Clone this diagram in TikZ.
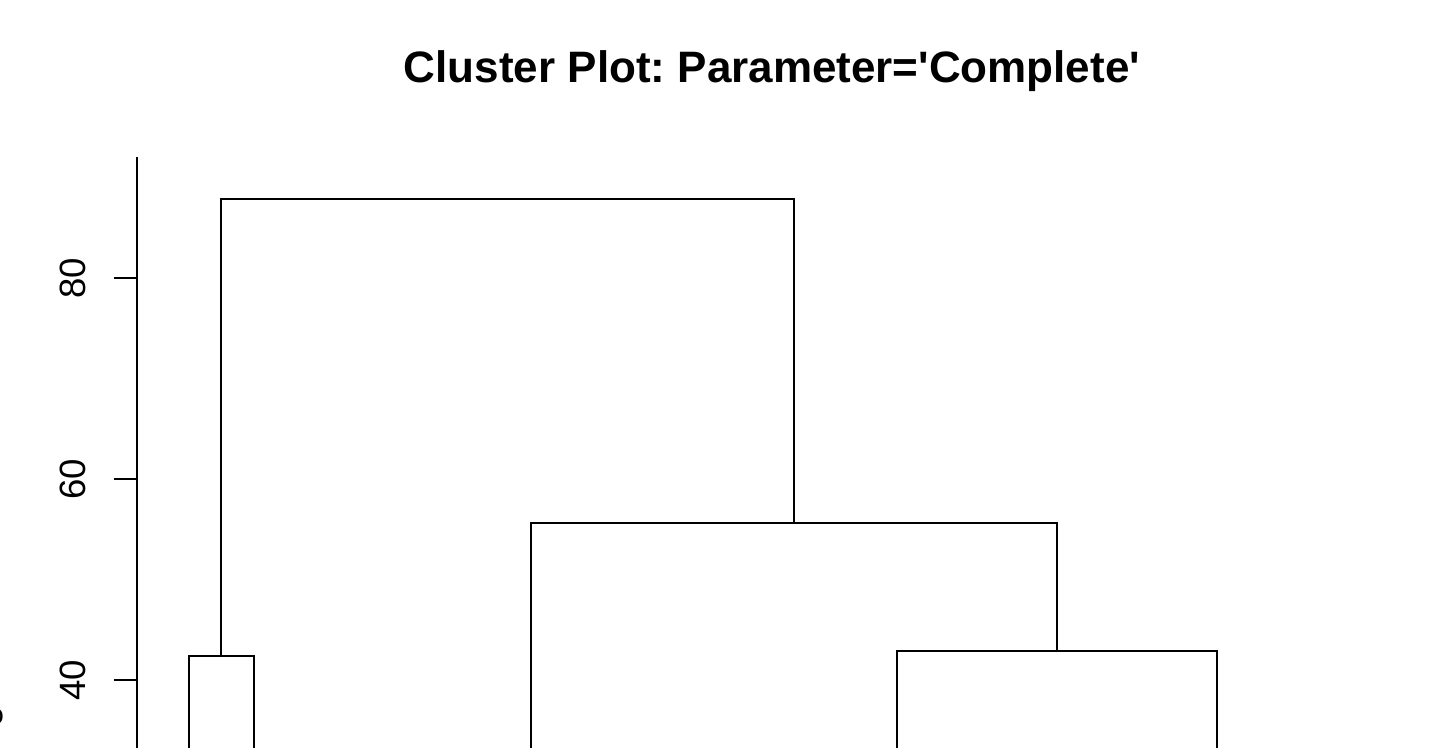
\documentclass[tikz,border=0pt]{standalone}
\usepackage{fontspec}
\setmainfont{Liberation Sans}
\frenchspacing

\tikzset{
  ticklabel/.style={rotate=90,anchor=base,inner sep=0pt,font=\fontsize{18.3}{22}\selectfont},
  plottitle/.style={anchor=base,inner sep=0pt,font=\bfseries\fontsize{22}{26}\selectfont}
}

\begin{document}
\begin{tikzpicture}[x=0.5pt,y=-0.5pt,line width=1.25pt]
\useasboundingbox (0,0) rectangle (1434,748);

\node[plottitle] (title) at (772,83) {Cluster Plot: Parameter=\textquotesingle Complete\textquotesingle};

% axis
\coordinate (Y0) at (137,157);
\coordinate (Y1) at (137,760);
\draw (Y0) -- (Y1);

\foreach \v/\y in {80/278,60/479,40/680}{
  \coordinate (tick\v) at (137,\y);
  \draw (tick\v) -- ++(-23,0);
  \node[ticklabel] (lab\v) at (85,\y) {\v};
}

\node[ticklabel,anchor=base east] (ylab) at (-4,674) {Height};

% left pair
\coordinate (A1) at (189,756);
\coordinate (A2) at (189,656);
\coordinate (A3) at (254,656);
\coordinate (A4) at (254,756);

\draw (A1) -- (A2) -- (A3) -- (A4);

% right pair
\coordinate (B1) at (897,756);
\coordinate (B2) at (897,651);
\coordinate (B3) at (1217,651);
\coordinate (B4) at (1217,756);

\draw (B1) -- (B2) -- (B3) -- (B4);

% middle
\coordinate (C1) at (531,756);
\coordinate (C2) at (531,523);
\coordinate (C3) at (1057,523);
\coordinate (C4) at (1057,651);

\draw (C1) -- (C2) -- (C3) -- (C4);

% top
\coordinate (D1) at (221,656);
\coordinate (D2) at (221,199);
\coordinate (D3) at (794,199);
\coordinate (D4) at (794,523);

\draw (D1) -- (D2) -- (D3) -- (D4);
\end{tikzpicture}
\end{document}
